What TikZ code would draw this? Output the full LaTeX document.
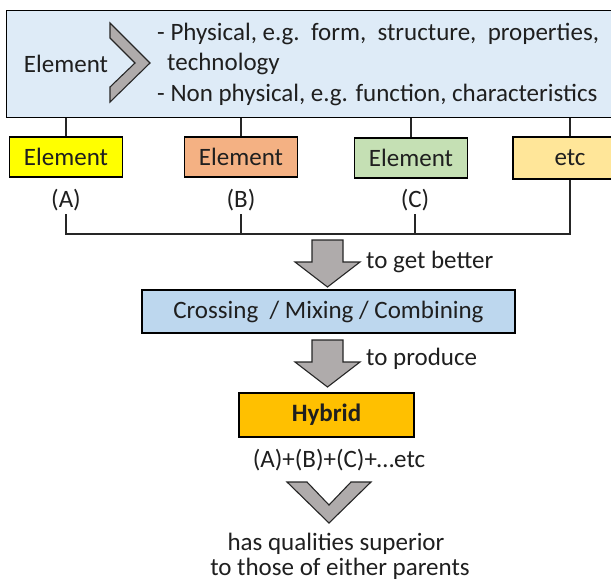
\documentclass[tikz,border=0pt]{standalone}
\usepackage{fontspec}
\setmainfont{Carlito}
\definecolor{txt}{HTML}{1F1F1F}
\definecolor{topblue}{HTML}{DEEBF7}
\definecolor{midblue}{HTML}{BDD7EE}
\definecolor{ygold}{HTML}{FFC000}
\definecolor{yel}{HTML}{FFFF00}
\definecolor{org}{HTML}{F4B183}
\definecolor{grn}{HTML}{C5E0B4}
\definecolor{lyel}{HTML}{FFE699}
\definecolor{arrgray}{HTML}{AFABAB}
\begin{document}
\begin{tikzpicture}[x=1pt,y=-1pt,
  font=\fontsize{25}{29}\selectfont, text=txt,
  box/.style={draw=black, line width=1.3pt, inner sep=0pt, text=txt},
  elbox/.style={box, minimum width=113pt, minimum height=40pt},
  lbl/.style={inner sep=0pt, text=txt},
  conn/.style={draw=black!85, line width=1.2pt},
  garrow/.style={fill=arrgray, draw=black!85, line width=1.1pt, line join=miter}]
\useasboundingbox (0,0) rectangle (611,582);
% top box
\node[box, fill=topblue, minimum width=608pt, minimum height=107pt, anchor=north west] (top) at (6,10) {};
\node[lbl] (el) at (66,64) {Element};
\draw[garrow] (110,23) -- (150,63) -- (110,102) -- (110,87) -- (135,63) -- (110,38) -- cycle;
\node[lbl, anchor=west] (l1) at (157,34) {- Physical, e.g.\ \ form,\ \ structure,\ \ properties,};
\node[lbl, anchor=west] (l2) at (167,64) {technology};
\node[lbl, anchor=west] (l3) at (157,95) {- Non physical, e.g. function, characteristics};
% element boxes
\node[elbox, fill=yel] (ea) at (66,157) {Element};
\node[elbox, fill=org] (eb) at (241,157) {Element};
\node[elbox, fill=grn] (ec) at (411,158) {Element};
\node[elbox, fill=lyel, minimum height=42pt, minimum width=114pt] (ed) at (570,158) {etc};
\foreach \n in {ea,eb,ec,ed} \draw[conn] (top.south -| \n.north) -- (\n.north);
% labels
\node[lbl] (la) at (66,200) {(A)};
\node[lbl] (lb) at (241,200) {(B)};
\node[lbl] (lc) at (415,200) {(C)};
\coordinate (bar) at (0,234);
\draw[conn] (la.south) ++(0,3) -- (la.south |- bar) -- (ed.south |- bar) -- (ed.south);
\draw[conn] (lb.south) ++(0,3) -- (lb.south |- bar);
\draw[conn] (lc.south) ++(0,3) -- (lc.south |- bar);
% arrow 1
\draw[garrow] (312,240) -- (343,240) -- (343,262) -- (360,262) -- (327.5,287) -- (295,262) -- (312,262) -- cycle;
\node[lbl, anchor=west] (t1) at (366,262) {to get better};
% crossing box
\node[box, fill=midblue, minimum width=373pt, minimum height=43pt] (cross) at (328.5,311.5) {Crossing\ \ /\ Mixing / Combining};
% arrow 2
\draw[garrow] (312,340) -- (343,340) -- (343,362) -- (360,362) -- (327.5,387) -- (295,362) -- (312,362) -- cycle;
\node[lbl, anchor=west] (t2) at (366,359) {to produce};
% hybrid
\node[box, fill=ygold, minimum width=175pt, minimum height=44pt, font=\fontsize{25}{29}\selectfont\bfseries] (hyb) at (326.5,415) {Hybrid};
\node[lbl] (sum) at (339,460) {(A)+(B)+(C)+…etc};
% open chevron
\draw[garrow] (287,482) -- (307,482) -- (329,505) -- (351,482) -- (371,482) -- (329,523) -- cycle;
\node[lbl] (q1) at (336,544) {has qualities superior};
\node[lbl] (q2) at (340,569) {to those\ of either parents};
\end{tikzpicture}
\end{document}
